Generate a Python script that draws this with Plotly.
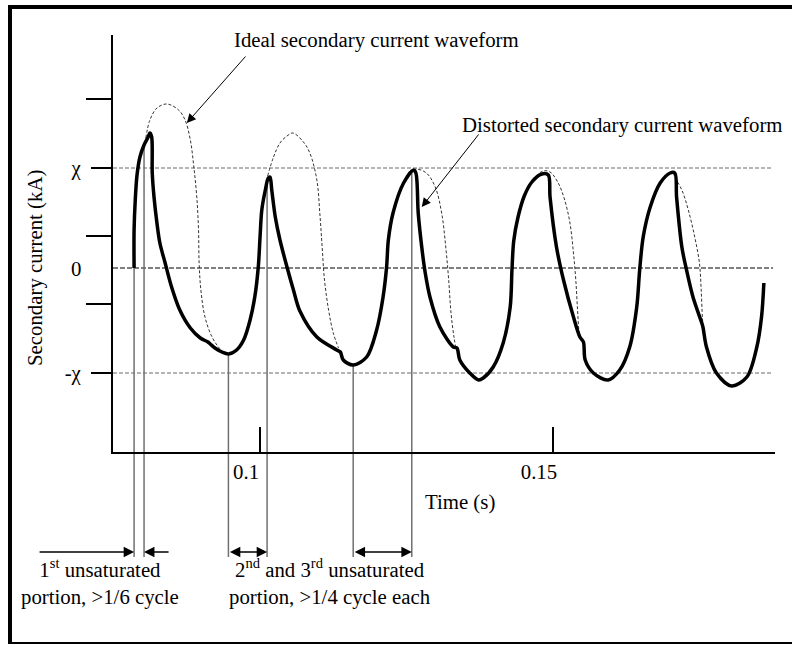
import plotly.graph_objects as go

# ---------------- data ----------------
# distorted secondary current waveform (time in s, current in chi units)
distorted_t = [0.0785, 0.0785, 0.0787, 0.0790, 0.0795, 0.0802, 0.0809, 0.0812, 0.0815, 0.0816,
               0.0819, 0.0824, 0.0829, 0.0838, 0.0849, 0.0863, 0.0881, 0.0898, 0.0911, 0.0915,
               0.0923, 0.0935, 0.0946, 0.0960, 0.0972, 0.0983, 0.0991, 0.0997, 0.1000, 0.1003,
               0.1009, 0.1014, 0.1017, 0.1020, 0.1026, 0.1034, 0.1046, 0.1057, 0.1068, 0.1097,
               0.1131, 0.1137, 0.1142, 0.1159, 0.1182, 0.1199, 0.1210, 0.1216, 0.1219, 0.1227,
               0.1245, 0.1262, 0.1266, 0.1270, 0.1276, 0.1282, 0.1290, 0.1307, 0.1330, 0.1336,
               0.1341, 0.1358, 0.1373, 0.1381, 0.1398, 0.1415, 0.1427, 0.1430, 0.1433, 0.1440,
               0.1451, 0.1464, 0.1481, 0.1492, 0.1495, 0.1506, 0.1518, 0.1535, 0.1546, 0.1552,
               0.1555, 0.1569, 0.1594, 0.1614, 0.1631, 0.1643, 0.1648, 0.1654, 0.1666, 0.1683,
               0.1700, 0.1708, 0.1711, 0.1720, 0.1728, 0.1739, 0.1754, 0.1756, 0.1762, 0.1779,
               0.1805, 0.1831, 0.1848, 0.1856, 0.1860]
distorted_i = [0.00, 0.38, 0.68, 0.93, 1.11, 1.23, 1.31, 1.35, 1.31, 0.95,
               0.71, 0.45, 0.25, 0.05, -0.19, -0.42, -0.60, -0.70, -0.74, -0.76,
               -0.80, -0.84, -0.86, -0.82, -0.72, -0.52, -0.29, 0.01, 0.31, 0.58,
               0.78, 0.90, 0.91, 0.78, 0.51, 0.28, 0.01, -0.22, -0.43, -0.69,
               -0.82, -0.84, -0.92, -0.97, -0.89, -0.62, -0.29, 0.01, 0.28, 0.55,
               0.85, 0.98, 0.95, 0.55, 0.21, -0.05, -0.29, -0.59, -0.79, -0.80,
               -0.92, -1.05, -1.12, -1.10, -0.99, -0.75, -0.39, -0.02, 0.27, 0.50,
               0.72, 0.86, 0.94, 0.93, 0.71, 0.21, -0.12, -0.49, -0.69, -0.74,
               -0.92, -1.05, -1.12, -1.02, -0.79, -0.39, -0.02, 0.31, 0.61, 0.85,
               0.95, 0.95, 0.71, 0.21, -0.02, -0.29, -0.55, -0.59, -0.79, -1.05,
               -1.18, -1.09, -0.79, -0.49, -0.15]

# ideal secondary current waveform (dashed arcs, where it departs from the distorted one)
ideal_t = [0.0805, 0.0812, 0.0824, 0.0841, 0.0861, 0.0872, 0.0881, 0.0887, 0.0892, 0.0895,
           0.0896, 0.0899, 0.0906, 0.0918, 0.0929, 0.0937, None,
           0.1013, 0.1023, 0.1034, 0.1046, 0.1056, 0.1074, 0.1085, 0.1097, 0.1102, 0.1106,
           0.1110, 0.1117, 0.1125, 0.1134, None,
           0.1262, 0.1267, 0.1284, 0.1299, 0.1310, 0.1317, 0.1322, 0.1326, 0.1331, 0.1334, None,
           0.1441, 0.1449, 0.1466, 0.1483, 0.1495, 0.1509, 0.1520, 0.1529, 0.1535, 0.1539,
           0.1542, 0.1545, 0.1549, None,
           0.1706, 0.1708, 0.1720, 0.1731, 0.1742, 0.1750, 0.1753, 0.1755, 0.1756]
ideal_i = [1.30, 1.48, 1.60, 1.64, 1.58, 1.48, 1.28, 1.01, 0.71, 0.38,
           0.05, -0.22, -0.49, -0.69, -0.79, -0.84, None,
           0.92, 1.11, 1.25, 1.32, 1.35, 1.26, 1.15, 0.88, 0.55, 0.21,
           -0.12, -0.42, -0.65, -0.80, None,
           0.98, 0.99, 0.95, 0.81, 0.55, 0.21, -0.12, -0.45, -0.69, -0.79, None,
           0.51, 0.68, 0.88, 0.97, 0.96, 0.85, 0.68, 0.45, 0.15, -0.12,
           -0.42, -0.65, -0.72, None,
           0.95, 0.91, 0.78, 0.58, 0.31, 0.05, -0.22, -0.49, -0.57]

chi_level = 1.0
neg_chi_level = -1.05
zero_level = 0.0

y_label_vals = [1.0, -1.05]
y_label_text = ["χ", "-χ"]
y_plain_ticks = [1.69, 0.32, -0.36]
x_tick_vals = [0.10, 0.15]
x_tick_text = ["0.1", "0.15"]

# boundaries of the unsaturated portions (time, current where the guide starts)
boundary_t = [0.0785, 0.0802, 0.0946, 0.1012, 0.1159, 0.1259]
boundary_i = [0.00, 1.23, -0.86, 0.88, -0.97, 0.97]

# arrow tips for the two waveform labels (time, current)
ideal_arrow_tip = (0.0875, 1.45)
distorted_arrow_tip = (0.1276, 0.61)

x_range = [0.0749, 0.1879]
y_range = [-1.84, 2.33]

# ---------------- layout geometry ----------------
W, H = 792, 645
L, R, T, B = 113, 17, 35, 193
FONT = "Liberation Serif, Times New Roman, serif"
FS = 20.8


def px_x(p):
    return (p - L) / (W - L - R)


def px_y(p):
    return (H - B - p) / (H - T - B)


def ydata_paper(v):
    return (v - y_range[0]) / (y_range[1] - y_range[0])


fig = go.Figure()

fig.add_trace(go.Scatter(
    x=ideal_t, y=ideal_i, mode="lines", connectgaps=False,
    line=dict(color="#333333", width=1, dash="3px,2px", shape="spline", smoothing=1.0),
    hoverinfo="skip", showlegend=False))

fig.add_trace(go.Scatter(
    x=distorted_t, y=distorted_i, mode="lines",
    line=dict(color="black", width=3.5, shape="spline", smoothing=0.9),
    hoverinfo="skip", showlegend=False))

shapes = []
# reference levels
for lvl, col, dash in [(chi_level, "#6a6a6a", "4px,2px"),
                       (zero_level, "black", "5px,2px"),
                       (neg_chi_level, "#6a6a6a", "4px,2px")]:
    shapes.append(dict(type="line", xref="paper", yref="y", x0=0, x1=0.997, y0=lvl, y1=lvl,
                       line=dict(color=col, width=1.2, dash=dash), layer="below"))

# vertical guide lines down to the annotation arrows
for bt, bi in zip(boundary_t, boundary_i):
    shapes.append(dict(type="line", xref="x", yref="paper", x0=bt, x1=bt,
                       y0=ydata_paper(bi), y1=px_y(557),
                       line=dict(color="#707070", width=1.5), layer="below"))

# outer frame
shapes.append(dict(type="line", xref="paper", yref="paper", x0=px_x(10), x1=px_x(10),
                   y0=px_y(5), y1=px_y(644), line=dict(color="black", width=4)))
shapes.append(dict(type="line", xref="paper", yref="paper", x0=px_x(8), x1=px_x(795),
                   y0=px_y(7), y1=px_y(7), line=dict(color="black", width=4)))
shapes.append(dict(type="line", xref="paper", yref="paper", x0=px_x(8), x1=px_x(795),
                   y0=px_y(643), y1=px_y(643), line=dict(color="black", width=2)))

ann = []
tf = dict(family=FONT, size=FS, color="black")

# waveform labels with pointers
ann.append(dict(xref="paper", yref="paper", x=px_x(376), y=px_y(40), text="Ideal secondary current waveform",
                showarrow=False, font=tf, xanchor="center", yanchor="middle"))
ann.append(dict(xref="x", yref="y", x=ideal_arrow_tip[0], y=ideal_arrow_tip[1], text="",
                showarrow=True, axref="pixel", ayref="pixel", ax=60, ay=-68,
                arrowhead=2, arrowsize=1.8, arrowwidth=1, arrowcolor="black"))
ann.append(dict(xref="paper", yref="paper", x=px_x(622), y=px_y(125), text="Distorted secondary current waveform",
                showarrow=False, font=tf, xanchor="center", yanchor="middle"))
ann.append(dict(xref="x", yref="y", x=distorted_arrow_tip[0], y=distorted_arrow_tip[1], text="",
                showarrow=True, axref="pixel", ayref="pixel", ax=58, ay=-74,
                arrowhead=2, arrowsize=1.8, arrowwidth=1, arrowcolor="black"))

# axis titles and the zero label
ann.append(dict(xref="paper", yref="paper", x=px_x(35), y=px_y(268), text="Secondary current (kA)",
                textangle=-90, showarrow=False, font=tf, xanchor="center", yanchor="middle"))
ann.append(dict(xref="paper", yref="paper", x=px_x(460), y=px_y(502), text="Time (s)",
                showarrow=False, font=tf, xanchor="center", yanchor="middle"))
ann.append(dict(xref="paper", yref="y", x=px_x(83), y=zero_level, text="0",
                showarrow=False, font=tf, xanchor="right", yanchor="middle"))

# unsaturated-portion arrows
arrow_y = px_y(552)
arr = dict(arrowcolor="black", arrowwidth=1.6, arrowhead=2, arrowsize=1.3, text="", showarrow=True)
ann.append(dict(xref="x", yref="paper", x=boundary_t[0], y=arrow_y, axref="pixel", ayref="pixel",
                ax=-96, ay=0, **arr))
ann.append(dict(xref="x", yref="paper", x=boundary_t[1], y=arrow_y, axref="pixel", ayref="pixel",
                ax=26, ay=0, **arr))
ann.append(dict(xref="x", yref="paper", x=boundary_t[3], y=arrow_y, axref="x", ayref="pixel",
                ax=boundary_t[2], ay=0, arrowside="end+start", startarrowhead=2, startarrowsize=1.3, **arr))
ann.append(dict(xref="x", yref="paper", x=boundary_t[5], y=arrow_y, axref="x", ayref="pixel",
                ax=boundary_t[4], ay=0, arrowside="end+start", startarrowhead=2, startarrowsize=1.3, **arr))

ann.append(dict(xref="paper", yref="paper", x=px_x(100), y=px_y(582),
                text="1<sup>st</sup> unsaturated<br>portion, &gt;1/6 cycle",
                showarrow=False, font=tf, xanchor="center", yanchor="middle", align="center"))
ann.append(dict(xref="paper", yref="paper", x=px_x(330), y=px_y(582),
                text="2<sup>nd</sup> and 3<sup>rd</sup> unsaturated<br>portion, &gt;1/4 cycle each",
                showarrow=False, font=tf, xanchor="center", yanchor="middle", align="center"))

fig.update_layout(
    width=W, height=H,
    margin=dict(l=L, r=R, t=T, b=B, pad=0),
    paper_bgcolor="white", plot_bgcolor="white",
    font=tf,
    showlegend=False,
    shapes=shapes,
    annotations=ann,
    xaxis=dict(range=x_range, showgrid=False, zeroline=False, showline=True, linecolor="black",
               linewidth=2, tickvals=x_tick_vals, ticktext=x_tick_text, ticks="inside",
               ticklen=25, tickwidth=2, tickcolor="black", ticklabelshift=-14,
               ticklabelstandoff=0, tickfont=tf, fixedrange=True),
    yaxis=dict(range=y_range, showgrid=False, zeroline=False, showline=True, linecolor="black",
               linewidth=2, tickvals=y_label_vals, ticktext=y_label_text, ticks="outside",
               ticklen=20, tickwidth=2, tickcolor="black", ticklabelstandoff=6, tickfont=tf,
               minor=dict(tickmode="array", tickvals=y_plain_ticks, ticks="outside", ticklen=25,
                          tickwidth=2, tickcolor="black", showgrid=False),
               fixedrange=True),
)

fig.write_html("out.html", config={"displayModeBar": False, "staticPlot": True},
               post_script="document.body.style.margin='0px';document.body.style.overflow='hidden';")
